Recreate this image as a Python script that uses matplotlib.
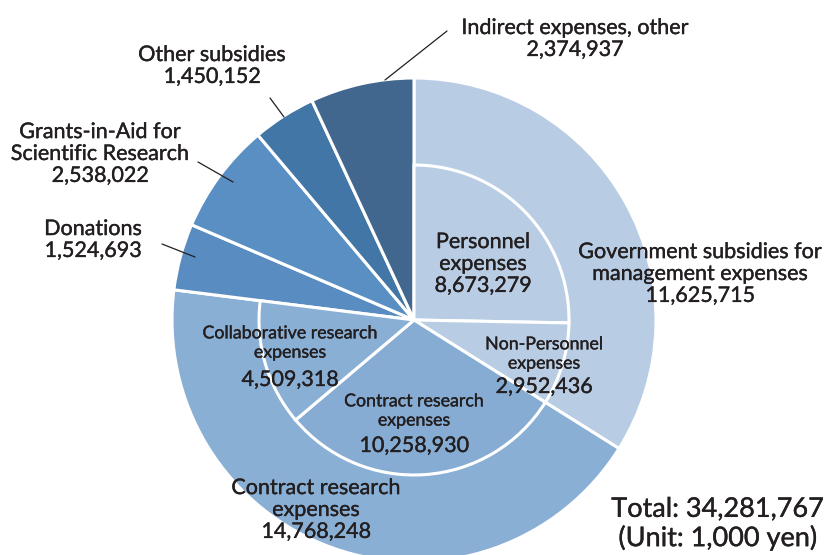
import matplotlib
matplotlib.use("Agg")
import matplotlib.pyplot as plt
import matplotlib.patheffects as pe

plt.rcParams["font.family"] = ["Lato", "DejaVu Sans"]

# outer ring: revenue (unit: 1,000 yen), clockwise from 12 o'clock
OUTER_LABELS = [
    "Government subsidies for\nmanagement expenses",
    "Contract research\nexpenses",
    "Donations",
    "Grants-in-Aid for\nScientific Research",
    "Other subsidies",
    "Indirect expenses, other",
]
OUTER_VALUES = [11625715, 14768248, 1524693, 2538022, 1450152, 2374937]
OUTER_COLORS = ["#b8cde4", "#8aafd5", "#598dc2", "#5a8fc4", "#4276a6", "#42678f"]

# inner ring: breakdown of the first two outer items
INNER_LABELS = [
    "Personnel\nexpenses",
    "Non-Personnel\nexpenses",
    "Contract research\nexpenses",
    "Collaborative research\nexpenses",
]
INNER_VALUES = [8673279, 2952436, 10258930, 4509318]
INNER_COLORS = ["#b8cde4", "#b8cde4", "#87acd4", "#8aafd5"]

TEXT = "#231f20"
W, H = 827, 555
CX, CY, R = 414, 320, 242
R_IN = 155 / 242
BOLDER = [pe.withStroke(linewidth=0.25, foreground=TEXT)]


def px(x, y):
    # pixel position (from top-left) -> data coords (pie radius = 1)
    return (x - CX) / R, (CY - y) / R


fig = plt.figure(figsize=(W / 100, H / 100), dpi=100)
ax = fig.add_axes([0, 0, 1, 1])

total = sum(OUTER_VALUES)

ax.pie(OUTER_VALUES, radius=1, startangle=90, counterclock=False,
       colors=OUTER_COLORS,
       wedgeprops=dict(edgecolor="white", linewidth=2.2))

rest = total - sum(INNER_VALUES)
inner, _ = ax.pie(INNER_VALUES + [rest], radius=R_IN, startangle=90,
                  counterclock=False, colors=INNER_COLORS + ["none"],
                  wedgeprops=dict(edgecolor="white", linewidth=2.2))
inner[-1].set_visible(False)

ax.set_xlim(-CX / R, (W - CX) / R)
ax.set_ylim(-(H - CY) / R, CY / R)
ax.set_aspect("equal")
ax.axis("off")


def label(name, value, x, y, size=15.5, ls=1.12):
    ax.text(*px(x, y), f"{name}\n{value:,}", ha="center", va="center",
            fontsize=size, color=TEXT, linespacing=ls, path_effects=BOLDER)


def small_label(name, value, x, y_name, y_value):
    # condensed name, full-size number
    ax.text(*px(x, y_name), name, ha="center", va="center",
            fontsize=12.8, color=TEXT, linespacing=1.25, path_effects=BOLDER)
    ax.text(*px(x, y_value), f"{value:,}", ha="center", va="center",
            fontsize=15.5, color=TEXT, path_effects=BOLDER)


label(OUTER_LABELS[0], OUTER_VALUES[0], 700, 274)
label(OUTER_LABELS[1], OUTER_VALUES[1], 316, 510)
label(OUTER_LABELS[2], OUTER_VALUES[2], 93, 240)
label(OUTER_LABELS[3], OUTER_VALUES[3], 100, 154)
label(OUTER_LABELS[4], OUTER_VALUES[4], 212, 66)
label(OUTER_LABELS[5], OUTER_VALUES[5], 575, 39)

label(INNER_LABELS[0], INNER_VALUES[0], 483, 264)
small_label(INNER_LABELS[1], INNER_VALUES[1], 544, 354, 387)
small_label(INNER_LABELS[2], INNER_VALUES[2], 414, 411, 446)
small_label(INNER_LABELS[3], INNER_VALUES[3], 290, 343, 380)

# leader lines
for (x0, y0), (x1, y1) in [((385, 80), (447, 31)),
                           ((284, 117), (270, 98)),
                           ((233, 182), (198, 162)),
                           ((195, 257), (162, 244))]:
    ax.annotate("", xy=px(x0, y0), xytext=px(x1, y1),
                arrowprops=dict(arrowstyle="-", color=TEXT, lw=0.9,
                                shrinkA=0, shrinkB=0))

ax.text(*px(718, 524), f"Total: {total:,}\n(Unit: 1,000 yen)",
        ha="center", va="center", fontsize=19.5, color=TEXT, linespacing=1.15,
        path_effects=BOLDER)

fig.savefig("out.png", dpi=100)
